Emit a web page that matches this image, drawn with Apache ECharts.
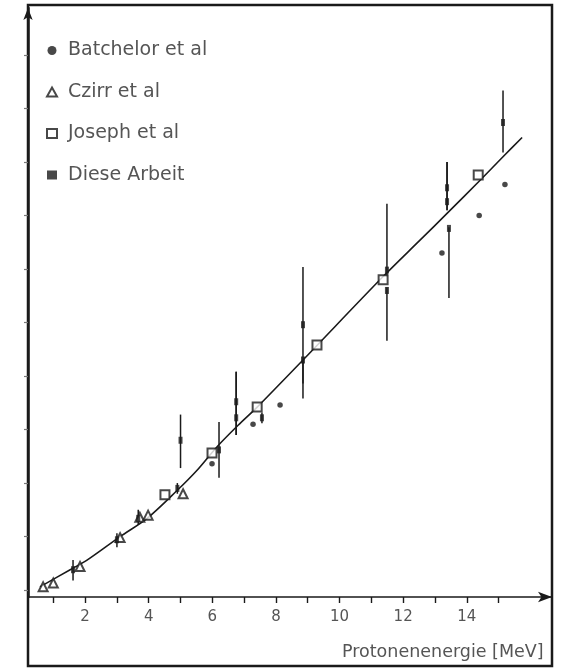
<!DOCTYPE html>
<html>
<head>
<meta charset="utf-8">
<script src="https://cdn.jsdelivr.net/npm/echarts@6/dist/echarts.min.js"></script>
<style>
  html, body { margin: 0; padding: 0; background: #fff; }
  #chart { width: 566px; height: 670px; }
</style>
</head>
<body>
<div id="chart"></div>
<script>

// fitted curve
const fitEnergy = [0.58, 1.53, 2.06, 3.10, 3.95, 4.89, 5.52, 6.15, 6.81, 7.41, 8.85, 11.37, 12.53, 13.38, 14.42, 15.14, 15.74];
const fitYield  = [0.03, 0.19, 0.28, 0.50, 0.67, 0.93, 1.12, 1.34, 1.54, 1.71, 2.15, 2.93, 3.27, 3.52, 3.83, 4.05, 4.23];

// Batchelor et al
const batchelorEnergy = [5.99, 7.28, 8.13, 13.22, 14.39, 15.20];
const batchelorYield  = [1.18, 1.55, 1.73, 3.15, 3.50, 3.79];

// Czirr et al
const czirrEnergy = [0.68, 1.00, 1.84, 3.10, 3.72, 3.98, 5.08];
const czirrYield  = [0.03, 0.065, 0.22, 0.49, 0.68, 0.70, 0.90];

// Joseph et al
const josephEnergy = [4.51, 5.99, 7.41, 9.29, 11.37, 14.36];
const josephYield  = [0.89, 1.28, 1.71, 2.29, 2.90, 3.88];

// Diese Arbeit, with error bars
const dieseEnergy = [1.62, 3.00, 3.67, 4.90, 5.00, 6.21, 6.75, 6.75, 7.56, 8.85, 8.85, 11.49, 11.49, 13.38, 13.38, 13.44, 15.14];
const dieseYield  = [0.19, 0.47, 0.67, 0.95, 1.40, 1.31, 1.76, 1.61, 1.61, 2.48, 2.15, 2.99, 2.80, 3.76, 3.63, 3.38, 4.37];
const dieseLow    = [0.09, 0.40, 0.61, 0.90, 1.14, 1.05, 1.45, 1.45, 1.56, 1.93, 1.79, 2.93, 2.33, 3.55, 3.55, 2.73, 4.09];
const dieseHigh   = [0.28, 0.53, 0.75, 1.00, 1.64, 1.57, 2.04, 2.04, 1.66, 3.02, 2.15, 3.61, 2.83, 4.00, 4.00, 3.39, 4.67];

// axis ticks
const xTickValues  = [1, 2, 3, 4, 5, 6, 7, 8, 9, 10, 11, 12, 13, 14, 15];
const xLabelValues = [2, 4, 6, 8, 10, 12, 14];
const yTickValues  = [0, 0.5, 1, 1.5, 2, 2.5, 3, 3.5, 4, 4.5, 5];

const pairs = (xs, ys) => xs.map((x, i) => [x, ys[i]]);

const ink = '#1a1a1a';
const textGrey = '#555';
const font = '"DejaVu Sans", "Noto Sans", sans-serif';

const chart = echarts.init(document.getElementById('chart'), null, { renderer: 'canvas' });

chart.setOption({
  animation: false,
  backgroundColor: '#fff',
  grid: { left: 28, right: 14, top: 8, bottom: 73, containLabel: false, outerBoundsMode: 'none' },
  legend: {
    orient: 'vertical',
    left: 41,
    top: 36,
    itemWidth: 10,
    itemHeight: 9,
    itemGap: 22.5,
    textStyle: { color: textGrey, fontSize: 19, fontFamily: font, padding: [0, 0, 0, 6] },
    data: [
      { name: 'Batchelor et al', icon: 'circle' },
      { name: 'Czirr et al', icon: 'emptyTriangle' },
      { name: 'Joseph et al', icon: 'emptyRect' },
      { name: 'Diese Arbeit', icon: 'rect' }
    ]
  },
  xAxis: {
    type: 'value',
    min: 0.204,
    max: 16.68,
    splitLine: { show: false },
    axisLine: {
      show: true,
      onZero: false,
      symbol: ['none', 'arrow'],
      symbolSize: [8, 14],
      lineStyle: { color: ink, width: 1.6 }
    },
    axisTick: {
      show: true,
      length: 6,
      customValues: xTickValues,
      lineStyle: { color: ink, width: 1.4 }
    },
    axisLabel: {
      show: true,
      customValues: xLabelValues,
      margin: 13,
      color: textGrey,
      fontSize: 15,
      fontFamily: font
    },
    name: 'Protonenenergie [MeV]',
    nameLocation: 'end',
    nameGap: -210,
    nameTextStyle: {
      color: textGrey,
      fontSize: 17.5,
      fontFamily: font,
      padding: [46, 0, 0, 0],
      verticalAlign: 'top'
    }
  },
  yAxis: {
    type: 'value',
    min: -0.065,
    max: 5.44,
    splitLine: { show: false },
    axisLine: {
      show: true,
      onZero: false,
      symbol: ['none', 'arrow'],
      symbolSize: [7, 12],
      lineStyle: { color: ink, width: 2.5 }
    },
    axisTick: {
      show: true,
      length: 4,
      customValues: yTickValues,
      lineStyle: { color: '#777', width: 1.2 }
    },
    axisLabel: { show: false }
  },
  graphic: [
    {
      type: 'rect',
      shape: { x: 28, y: 5, width: 524, height: 661 },
      style: { fill: 'none', stroke: ink, lineWidth: 2.5 },
      silent: true,
      z: 0
    }
  ],
  series: [
    {
      name: 'fit',
      type: 'line',
      data: pairs(fitEnergy, fitYield),
      smooth: 0.3,
      showSymbol: false,
      lineStyle: { color: ink, width: 1.6 },
      z: 2
    },
    {
      name: 'Diese Arbeit bars',
      type: 'custom',
      data: dieseEnergy.map((e, i) => [e, dieseLow[i], dieseHigh[i]]),
      renderItem: (params, api) => {
        const p1 = api.coord([api.value(0), api.value(1)]);
        const p2 = api.coord([api.value(0), api.value(2)]);
        return {
          type: 'line',
          shape: { x1: p1[0], y1: p1[1], x2: p2[0], y2: p2[1] },
          style: { stroke: ink, lineWidth: 1.5 }
        };
      },
      z: 3
    },
    {
      name: 'Batchelor et al',
      type: 'scatter',
      data: pairs(batchelorEnergy, batchelorYield),
      symbol: 'circle',
      symbolSize: 5.5,
      itemStyle: { color: ink },
      z: 4
    },
    {
      name: 'Czirr et al',
      type: 'scatter',
      data: pairs(czirrEnergy, czirrYield),
      symbol: 'emptyTriangle',
      symbolSize: 9,
      itemStyle: { color: ink, borderWidth: 1.3 },
      z: 4
    },
    {
      name: 'Joseph et al',
      type: 'scatter',
      data: pairs(josephEnergy, josephYield),
      symbol: 'emptyRect',
      symbolSize: 9,
      itemStyle: { color: ink, borderWidth: 1.3 },
      z: 4
    },
    {
      name: 'Diese Arbeit',
      type: 'scatter',
      data: pairs(dieseEnergy, dieseYield),
      symbol: 'rect',
      symbolSize: [4, 7],
      itemStyle: { color: ink },
      z: 5
    }
  ]
});
</script>
</body>
</html>
